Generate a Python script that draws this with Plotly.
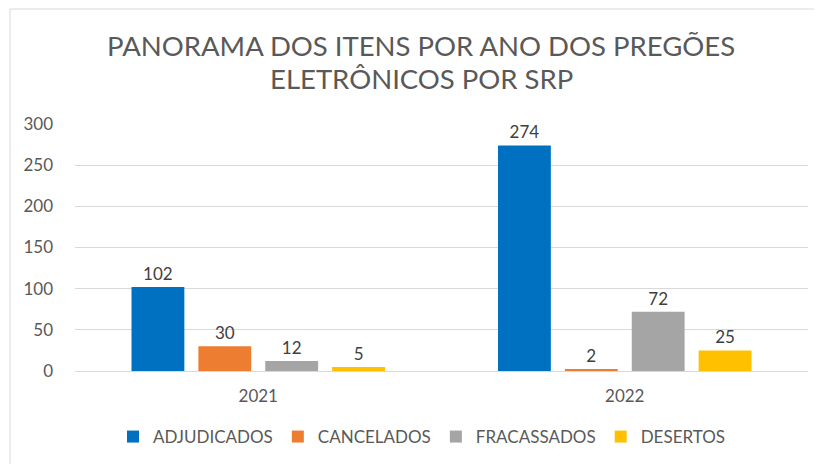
import plotly.graph_objects as go

years = ["2021", "2022"]
series_names = ["ADJUDICADOS", "CANCELADOS", "FRACASSADOS", "DESERTOS"]
adjudicados = [102, 274]
cancelados = [30, 2]
fracassados = [12, 72]
desertos = [5, 25]
y_ticks = [0, 50, 100, 150, 200, 250, 300]
title_lines = ["PANORAMA DOS ITENS POR ANO DOS PREGÕES", "ELETRÔNICOS POR SRP"]

colors = ["#0070C0", "#ED7D31", "#A5A5A5", "#FFC000"]
values = [adjudicados, cancelados, fracassados, desertos]
FONT = "Lato"

fig = go.Figure()
for name, vals, c in zip(series_names, values, colors):
    fig.add_trace(go.Bar(
        x=years, y=vals, name=name, marker=dict(color=c, line=dict(width=0)),
        text=[str(v) for v in vals], textposition="outside", cliponaxis=False,
        textfont=dict(family=FONT, size=17, color="#404040"),
    ))

OFF = 8  # page body margin
W, H = 822 - OFF, 464 - OFF
ml, mr, mt, mb = 75 - OFF, 14, 124 - OFF, 93
pw, ph = W - ml - mr, H - mt - mb

def px(x):
    return (x - OFF - ml) / pw

def py(y):
    return (H - mb - (y - OFF)) / ph

annotations = []
for line, yc in zip(title_lines, [45, 78]):
    annotations.append(dict(text=line, xref="paper", yref="paper", x=px(421), y=py(yc),
                            xanchor="center", yanchor="middle", showarrow=False,
                            font=dict(family=FONT, size=27.5, color="#595959")))

fig.update_layout(
    width=W, height=H,
    margin=dict(l=ml, r=mr, t=mt, b=mb, autoexpand=False),
    paper_bgcolor="white", plot_bgcolor="white",
    barmode="group", bargap=0.27, bargroupgap=0.21,
    font=dict(family=FONT, color="#595959"),
    annotations=annotations,
    legend=dict(orientation="h", x=px(422), xanchor="center", y=py(437), yanchor="middle",
                font=dict(family=FONT, size=17, color="#595959"),
                itemwidth=30, tracegroupgap=0, bgcolor="rgba(0,0,0,0)"),
    showlegend=True,
    shapes=[dict(type="rect", xref="paper", yref="paper",
                 x0=px(10), x1=px(840), y0=py(480), y1=py(9),
                 line=dict(color="#D9D9D9", width=1), layer="below")],
)
fig.update_xaxes(showgrid=False, showline=True, linecolor="#D9D9D9", linewidth=1,
                 ticks="", ticklabelstandoff=10,
                 tickfont=dict(family=FONT, size=17, color="#595959"))
fig.update_yaxes(range=[0, 300], tickvals=y_ticks, showgrid=True, gridcolor="#D9D9D9",
                 gridwidth=1, zeroline=False, showline=False, ticks="",
                 ticklabelstandoff=21,
                 tickfont=dict(family=FONT, size=17, color="#595959"))

fig.write_html("out.html")
